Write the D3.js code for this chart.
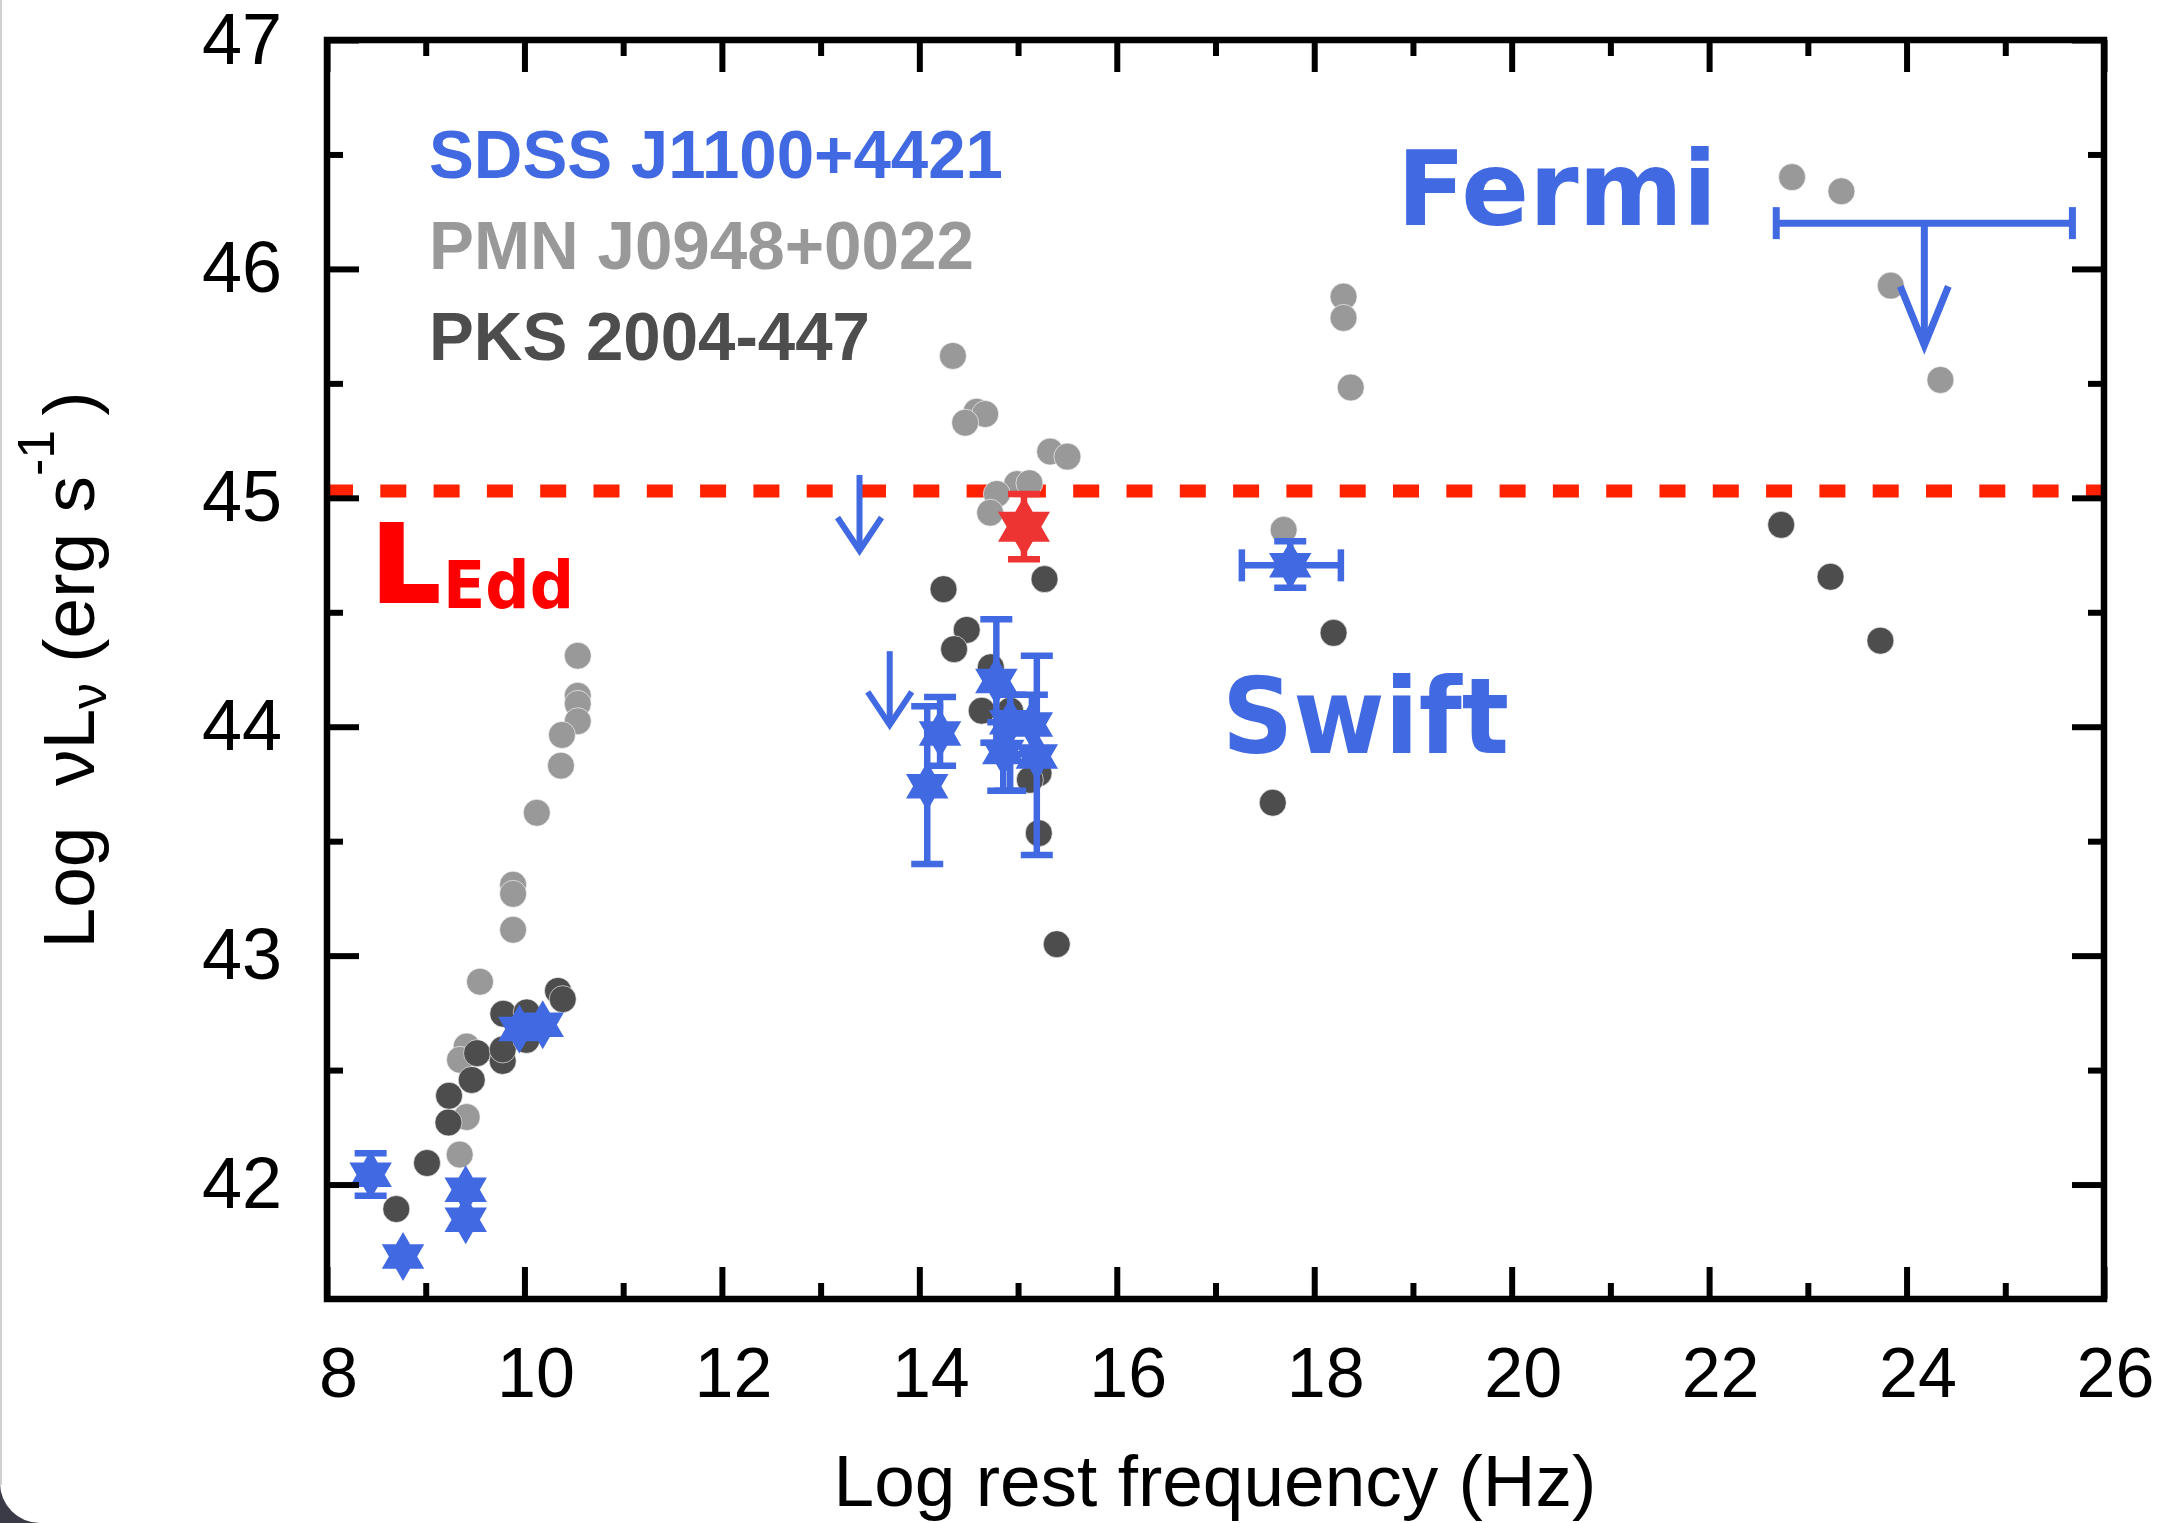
<!DOCTYPE html>
<html>
<head>
<meta charset="utf-8">
<script src="https://cdn.jsdelivr.net/npm/d3@7"></script>
<style>
  body { margin: 0; background: #fff; }
  svg { display: block; }
  text { white-space: pre; }
</style>
</head>
<body>
<div id="chart"></div>
<script>
// axis ticks
const xTickValues = [8, 10, 12, 14, 16, 18, 20, 22, 24, 26];
const xMinorTicks = [9, 11, 13, 15, 17, 19, 21, 23, 25];
const yTickValues = [42, 43, 44, 45, 46, 47];
const yMinorTicks = [42.5, 43.5, 44.5, 45.5, 46.5];

const legendNames = ['SDSS J1100+4421', 'PMN J0948+0022', 'PKS 2004-447'];
const eddingtonLum = 45.03;

// PMN J0948+0022 (light gray)
const pmnPoints = [
    [10.54, 44.31], [10.54, 44.135], [10.54, 44.10], [10.54, 44.024], [10.38, 43.964],
    [10.37, 43.83], [10.125, 43.624], [9.885, 43.31], [9.885, 43.27], [9.885, 43.113],
    [9.55, 42.886], [9.415, 42.603], [9.347, 42.545], [9.415, 42.295], [9.344, 42.131],
    [14.34, 45.62], [14.58, 45.376], [14.667, 45.366], [14.464, 45.328], [15.325, 45.202],
    [15.5, 45.18], [14.99, 45.06], [15.115, 45.064], [14.785, 45.017], [14.717, 44.935],
    [18.297, 45.879], [18.297, 45.786], [18.37, 45.482], [17.69, 44.86],
    [22.84, 46.401], [23.34, 46.339], [23.84, 45.927], [24.343, 45.515]
];

// PKS 2004-447 (dark gray)
const pksPoints = [
    [8.702, 41.893], [9.013, 42.094], [9.23, 42.271], [9.236, 42.388], [9.466, 42.457],
    [9.52, 42.574], [9.78, 42.54], [9.78, 42.59], [9.786, 42.746], [10.02, 42.632],
    [10.023, 42.752], [10.34, 42.846], [10.388, 42.81],
    [14.245, 44.601], [15.268, 44.645], [14.48, 44.423], [14.352, 44.339], [14.724, 44.26],
    [14.632, 44.07], [14.92, 44.07], [15.207, 43.797], [15.12, 43.768], [15.21, 43.535],
    [15.392, 43.05],
    [18.196, 44.41], [17.58, 43.668],
    [22.73, 44.882], [23.23, 44.655], [23.735, 44.376]
];

// SDSS J1100+4421: [logNu, logL, errLow, errHigh]
const sdssPoints = [
    [8.442, 42.043, 41.951, 42.137], [8.77, 41.686], [9.405, 41.977], [9.405, 41.846],
    [9.948, 42.679], [10.185, 42.698],
    [14.08, 43.74, 43.40, 44.09], [14.21, 43.97, 43.83, 44.13],
    [14.78, 44.20, 43.93, 44.47], [14.92, 44.02, 43.72, 44.14],
    [14.85, 43.89, 43.72, 44.02], [15.14, 44.01, 43.88, 44.14],
    [15.19, 43.87, 43.44, 44.31]
];
const sdssRedPoint = [15.06, 44.874, 44.732, 45.017];
// Swift: [logNu, logL, yLow, yHigh, xLow, xHigh]
const swiftPoint = [17.757, 44.705, 44.607, 44.81, 17.267, 18.27];
// upper limits: [logNu, top, arrow tip]
const upperLimits = [[13.394, 45.10, 44.77], [13.70, 44.33, 44.008]];
// Fermi: [xLow, xHigh, level, arrow tip]
const fermiLimit = [22.68, 25.68, 46.2, 45.666];

const width = 2177, height = 1523;
const blue = '#4169e1', lightGray = '#999999', darkGray = '#4d4d4d';

const x = d3.scaleLinear().domain([8, 26]).range([327, 2104]);
const y = d3.scaleLinear().domain([41.5, 47]).range([1299, 40]);

const svg = d3.select('#chart').append('svg')
    .attr('width', width)
    .attr('height', height)
    .style('font-family', '"Liberation Sans", Arial, sans-serif');

svg.append('rect').attr('width', width).attr('height', height).attr('fill', '#fff');

// window corner at bottom left
svg.append('path')
    .attr('d', 'M0,' + (height - 40) + ' A40,40 0 0 0 40,' + height + ' L0,' + height + 'Z')
    .attr('fill', '#3b3b48');
svg.append('line')
    .attr('x1', 1).attr('x2', 1).attr('y1', 0).attr('y2', height - 38)
    .attr('stroke', '#d0d0d0').attr('stroke-width', 2);

function starPath(r) {
    const pts = d3.range(12).map(function(i) {
        const a = -Math.PI / 2 + i * Math.PI / 6;
        const rr = i % 2 == 0 ? r : r / Math.sqrt(3);
        return [rr * Math.cos(a), rr * Math.sin(a)];
    });
    return 'M' + pts.join('L') + 'Z';
}

// Eddington line
svg.append('line')
    .attr('x1', x(8)).attr('x2', x(26))
    .attr('y1', y(eddingtonLum)).attr('y2', y(eddingtonLum))
    .attr('stroke', '#ff2200')
    .attr('stroke-width', 13)
    .attr('stroke-dasharray', '26,27.3');

// circles
svg.append('g').selectAll('circle')
    .data(pmnPoints).enter().append('circle')
    .attr('cx', d => x(d[0])).attr('cy', d => y(d[1])).attr('r', 13.5)
    .attr('fill', lightGray).attr('stroke', '#fff').attr('stroke-opacity', 0.6).attr('stroke-width', 1);

svg.append('g').selectAll('circle')
    .data(pksPoints).enter().append('circle')
    .attr('cx', d => x(d[0])).attr('cy', d => y(d[1])).attr('r', 13.5)
    .attr('fill', darkGray).attr('stroke', '#fff').attr('stroke-opacity', 0.6).attr('stroke-width', 1);

// error bars
function vErr(g, xv, lo, hi, color) {
    g.append('line').attr('x1', x(xv)).attr('x2', x(xv)).attr('y1', y(lo)).attr('y2', y(hi))
        .attr('stroke', color).attr('stroke-width', 6.5);
    [lo, hi].forEach(v => {
        g.append('line').attr('x1', x(xv) - 16).attr('x2', x(xv) + 16).attr('y1', y(v)).attr('y2', y(v))
            .attr('stroke', color).attr('stroke-width', 6.5);
    });
}

const errG = svg.append('g');
sdssPoints.filter(d => d.length > 2).forEach(d => vErr(errG, d[0], d[2], d[3], blue));

// swift x + y errors
vErr(errG, swiftPoint[0], swiftPoint[2], swiftPoint[3], blue);
errG.append('line').attr('x1', x(swiftPoint[4])).attr('x2', x(swiftPoint[5]))
    .attr('y1', y(swiftPoint[1])).attr('y2', y(swiftPoint[1]))
    .attr('stroke', blue).attr('stroke-width', 6.5);
[swiftPoint[4], swiftPoint[5]].forEach(v => {
    errG.append('line').attr('x1', x(v)).attr('x2', x(v))
        .attr('y1', y(swiftPoint[1]) - 16).attr('y2', y(swiftPoint[1]) + 16)
        .attr('stroke', blue).attr('stroke-width', 6.5);
});

svg.append('g').selectAll('path')
    .data(sdssPoints.concat([swiftPoint])).enter().append('path')
    .attr('d', starPath(24.5))
    .attr('transform', d => 'translate(' + x(d[0]) + ',' + y(d[1]) + ')')
    .attr('fill', blue);

// red point
vErr(svg.append('g'), sdssRedPoint[0], sdssRedPoint[2], sdssRedPoint[3], '#ee3333');
svg.append('path')
    .attr('d', starPath(30))
    .attr('transform', 'translate(' + x(sdssRedPoint[0]) + ',' + y(sdssRedPoint[1]) + ')')
    .attr('fill', '#ee3333');

// upper limits
upperLimits.forEach(d => {
    const g = svg.append('g').attr('stroke', blue).attr('stroke-width', 6).attr('fill', 'none');
    g.append('line').attr('x1', x(d[0])).attr('x2', x(d[0])).attr('y1', y(d[1])).attr('y2', y(d[2]));
    g.append('polyline').attr('points', [[x(d[0]) - 22, y(d[2]) - 33], [x(d[0]), y(d[2])], [x(d[0]) + 22, y(d[2]) - 33]].join(' '));
});

const fermiG = svg.append('g').attr('stroke', blue).attr('stroke-width', 7).attr('fill', 'none');
const fx = (fermiLimit[0] + fermiLimit[1]) / 2;
fermiG.append('line').attr('x1', x(fermiLimit[0])).attr('x2', x(fermiLimit[1]))
    .attr('y1', y(fermiLimit[2])).attr('y2', y(fermiLimit[2]));
[fermiLimit[0], fermiLimit[1]].forEach(v => {
    fermiG.append('line').attr('x1', x(v)).attr('x2', x(v))
        .attr('y1', y(fermiLimit[2]) - 16).attr('y2', y(fermiLimit[2]) + 16);
});
fermiG.append('line').attr('x1', x(fx)).attr('x2', x(fx)).attr('y1', y(fermiLimit[2])).attr('y2', y(fermiLimit[3]));
fermiG.append('polyline')
    .attr('points', [[x(fx) - 24, y(fermiLimit[3]) - 59], [x(fx), y(fermiLimit[3])], [x(fx) + 24, y(fermiLimit[3]) - 59]].join(' '));

// legend text
const legendColors = [blue, lightGray, darkGray];
const legendWidths = [574, 545, 441];
svg.append('g').selectAll('text')
    .data(legendNames).enter().append('text')
    .attr('x', 429)
    .attr('y', (d, i) => 177.7 + i * 90.9)
    .attr('font-size', 68).attr('font-weight', 'bold')
    .attr('fill', (d, i) => legendColors[i])
    .attr('textLength', (d, i) => legendWidths[i])
    .attr('lengthAdjust', 'spacingAndGlyphs')
    .text(d => d);

const boldFont = '"DejaVu Sans", Verdana, sans-serif';
svg.append('text').attr('x', 1397).attr('y', 224.6)
    .attr('font-family', boldFont).attr('font-weight', 'bold').attr('font-size', 104)
    .attr('fill', blue).attr('textLength', 320).attr('lengthAdjust', 'spacingAndGlyphs')
    .text('Fermi');
svg.append('text').attr('x', 1222).attr('y', 753)
    .attr('font-family', boldFont).attr('font-weight', 'bold').attr('font-size', 105)
    .attr('fill', blue).attr('textLength', 287).attr('lengthAdjust', 'spacingAndGlyphs')
    .text('Swift');

const edd = svg.append('g').attr('font-family', boldFont).attr('font-weight', 'bold').attr('fill', '#ff0000');
edd.append('text').attr('x', 372).attr('y', 600.7).attr('font-size', 106)
    .attr('stroke', '#ff0000').attr('stroke-width', 4)
    .text('L');
edd.append('text').attr('x', 443).attr('y', 608).attr('font-size', 66)
    .attr('textLength', 131).attr('lengthAdjust', 'spacingAndGlyphs')
    .text('Edd');

// axes, inward ticks on all four sides
function styleAxis(g) {
    g.select('.domain').remove();
    g.selectAll('line').attr('stroke', '#000').attr('stroke-width', 6);
}

const xAxis = svg.append('g').attr('transform', 'translate(0,' + y(41.5) + ')')
    .call(d3.axisBottom(x).tickValues(xTickValues).tickSize(-32).tickPadding(48).tickFormat(d3.format('d')))
    .call(styleAxis);
xAxis.selectAll('text').attr('font-size', 70).attr('fill', '#000').attr('dx', 11)
    .style('font-family', '"Liberation Sans", Arial, sans-serif');
svg.append('g').attr('transform', 'translate(0,' + y(41.5) + ')')
    .call(d3.axisBottom(x).tickValues(xMinorTicks).tickSize(-16).tickFormat(''))
    .call(styleAxis);
svg.append('g').attr('transform', 'translate(0,' + y(47) + ')')
    .call(d3.axisTop(x).tickValues(xTickValues).tickSize(-32).tickFormat(''))
    .call(styleAxis);
svg.append('g').attr('transform', 'translate(0,' + y(47) + ')')
    .call(d3.axisTop(x).tickValues(xMinorTicks).tickSize(-16).tickFormat(''))
    .call(styleAxis);

const yAxis = svg.append('g').attr('transform', 'translate(' + x(8) + ',0)')
    .call(d3.axisLeft(y).tickValues(yTickValues).tickSize(-32).tickPadding(45).tickFormat(d3.format('d')))
    .call(styleAxis);
yAxis.selectAll('text').attr('font-size', 72).attr('fill', '#000')
    .style('font-family', '"Liberation Sans", Arial, sans-serif');
svg.append('g').attr('transform', 'translate(' + x(8) + ',0)')
    .call(d3.axisLeft(y).tickValues(yMinorTicks).tickSize(-16).tickFormat(''))
    .call(styleAxis);
svg.append('g').attr('transform', 'translate(' + x(26) + ',0)')
    .call(d3.axisRight(y).tickValues(yTickValues).tickSize(-32).tickFormat(''))
    .call(styleAxis);
svg.append('g').attr('transform', 'translate(' + x(26) + ',0)')
    .call(d3.axisRight(y).tickValues(yMinorTicks).tickSize(-16).tickFormat(''))
    .call(styleAxis);

svg.append('rect')
    .attr('x', x(8)).attr('y', y(47))
    .attr('width', x(26) - x(8)).attr('height', y(41.5) - y(47))
    .attr('fill', 'none').attr('stroke', '#000').attr('stroke-width', 6.5);

// axis titles
svg.append('text')
    .attr('x', 1215).attr('y', 1506)
    .attr('text-anchor', 'middle').attr('font-size', 73)
    .text('Log rest frequency (Hz)');

const yTitle = svg.append('text')
    .attr('transform', 'translate(94,670) rotate(-90)')
    .attr('text-anchor', 'middle').attr('font-size', 73);
yTitle.append('tspan').text('Log  \u03bdL');
yTitle.append('tspan').attr('font-size', 52).attr('dy', 12).text('\u03bd');
yTitle.append('tspan').attr('dy', -12).text(' (erg s');
yTitle.append('tspan').attr('font-size', 52).attr('dy', -40).text('-1');
yTitle.append('tspan').attr('dy', 40).attr('dx', 14).text(')');
</script>
</body>
</html>
